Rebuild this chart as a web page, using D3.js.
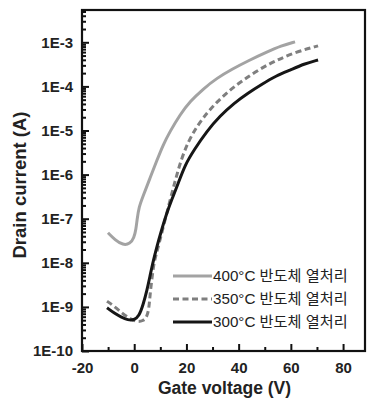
<!DOCTYPE html>
<html>
<head>
<meta charset="utf-8">
<script src="https://cdn.jsdelivr.net/npm/d3@7"></script>
<style>
  body { margin: 0; background: #fff; }
  text { font-family: "Liberation Sans", Arial, sans-serif; font-weight: bold; fill: #222; }
  .lg { font-family: "Liberation Sans", "Noto Sans CJK KR", sans-serif; font-weight: normal; }
</style>
</head>
<body>
<svg id="chart" width="368" height="399"></svg>
<script>
// 게이트 전압 (V) 과 log10(드레인 전류) 값, 그림에서 읽음
const v400 = [-10.04, -7.36, -4.29, -1.61, -0.08, 0.69, 1.07, 1.84, 3.37, 6.05, 8.74, 11.03, 13.72, 17.55, 21.38, 26.36, 31.72, 37.47, 43.6, 50.88, 56.25, 61.61];
const logI400 = [-7.32, -7.48, -7.60, -7.57, -7.44, -7.23, -7.03, -6.73, -6.49, -6.08, -5.67, -5.33, -5.02, -4.64, -4.34, -4.06, -3.81, -3.61, -3.42, -3.22, -3.08, -2.99];

const v350 = [-10.42, -7.36, -4.29, -1.61, 1.07, 3.37, 4.90, 5.67, 6.05, 6.82, 7.59, 9.12, 10.65, 12.95, 15.63, 17.93, 20.61, 24.06, 27.89, 32.11, 36.70, 41.69, 47.43, 53.95, 61.99, 70.42];
const logI350 = [-8.87, -9.00, -9.16, -9.27, -9.34, -9.32, -9.23, -9.02, -8.73, -8.34, -7.98, -7.66, -7.30, -6.76, -6.15, -5.67, -5.26, -4.90, -4.60, -4.33, -4.08, -3.86, -3.63, -3.42, -3.22, -3.08];

const v300 = [-10.42, -7.74, -5.06, -2.38, -0.08, 1.84, 3.37, 4.90, 6.05, 7.20, 8.74, 10.27, 12.18, 14.48, 16.78, 19.46, 22.91, 27.89, 32.87, 38.24, 43.60, 48.97, 54.33, 59.69, 65.06, 70.42];
const logI300 = [-9.02, -9.14, -9.23, -9.30, -9.30, -9.21, -8.96, -8.62, -8.30, -7.98, -7.62, -7.30, -6.92, -6.55, -6.21, -5.78, -5.44, -5.01, -4.67, -4.38, -4.15, -3.95, -3.76, -3.63, -3.49, -3.40];

const legendLabels = ['400°C 반도체 열처리', '350°C 반도체 열처리', '300°C 반도체 열처리'];
const xTicks = [-20, 0, 20, 40, 60, 80];
const xMinorTicks = [-10, 10, 30, 50, 70];
const yTicks = [1e-10, 1e-9, 1e-8, 1e-7, 1e-6, 1e-5, 1e-4, 1e-3];
const yTickLabels = ['1E-10', '1E-9', '1E-8', '1E-7', '1E-6', '1E-5', '1E-4', '1E-3'];

const series = [
    { v: v400, l: logI400, color: '#a3a3a3', dash: null },
    { v: v350, l: logI350, color: '#7f7f7f', dash: '6,3.5' },
    { v: v300, l: logI300, color: '#161616', dash: null }
];

const margin = { left: 82, top: 10, right: 3, bottom: 48 };
const width = 368, height = 399;
const svg = d3.select('#chart');

const x = d3.scaleLinear().domain([-20, 88.4]).range([margin.left, width - margin.right]);
const y = d3.scaleLog().domain([1e-10, 5.4e-3]).range([height - margin.bottom, margin.top]);

// 축 (안쪽 눈금)
const xAxis = d3.axisBottom(x).tickValues(xTicks).tickSize(-7).tickPadding(11).tickFormat(d => String(d));
const xMinor = d3.axisBottom(x).tickValues(xMinorTicks).tickSize(-4).tickFormat('');

const minorY = [];
for (let e = -10; e <= -3; e++) {
    for (let k = 2; k <= 9; k++) {
        const val = k * Math.pow(10, e);
        if (val < 5.4e-3) minorY.push(val);
    }
}
const yAxis = d3.axisLeft(y).tickValues(yTicks).tickSize(-7).tickPadding(9).tickFormat((d, i) => yTickLabels[i]);
const yMinor = d3.axisLeft(y).tickValues(minorY).tickSize(-4).tickFormat('');

svg.append('g').attr('transform', `translate(0,${height - margin.bottom})`).call(xAxis);
svg.append('g').attr('transform', `translate(0,${height - margin.bottom})`).call(xMinor);
svg.append('g').attr('transform', `translate(${margin.left},0)`).call(yAxis);
svg.append('g').attr('transform', `translate(${margin.left},0)`).call(yMinor);

svg.selectAll('.domain').remove();
svg.selectAll('.tick line').attr('stroke', '#111').attr('stroke-width', 2);
svg.selectAll('.tick text').style('font-size', '15px').attr('fill', '#222');

// 테두리
svg.append('rect')
    .attr('x', margin.left).attr('y', margin.top)
    .attr('width', width - margin.right - margin.left)
    .attr('height', height - margin.bottom - margin.top)
    .attr('fill', 'none').attr('stroke', '#111').attr('stroke-width', 2.2);

// 곡선
const line = d3.line().curve(d3.curveBasis).x(d => x(d[0])).y(d => y(Math.pow(10, d[1])));
series.forEach(s => {
    svg.append('path')
        .datum(s.v.map((vv, k) => [vv, s.l[k]]))
        .attr('d', line)
        .attr('fill', 'none')
        .attr('stroke', s.color)
        .attr('stroke-width', 3)
        .attr('stroke-dasharray', s.dash);
});

// 범례
const lg = svg.append('g');
series.forEach((s, k) => {
    const yy = 276 + k * 23;
    lg.append('line')
        .attr('x1', 173).attr('x2', 212).attr('y1', yy).attr('y2', yy)
        .attr('stroke', s.color).attr('stroke-width', 3)
        .attr('stroke-dasharray', s.dash);
    lg.append('text')
        .attr('class', 'lg')
        .attr('x', 213).attr('y', yy + 5)
        .style('font-size', '15.2px')
        .text(legendLabels[k]);
});

// 축 제목
svg.append('text')
    .attr('x', 224.5).attr('y', 394)
    .attr('text-anchor', 'middle')
    .style('font-size', '17.5px')
    .text('Gate voltage (V)');

svg.append('text')
    .attr('transform', `translate(26,185) rotate(-90)`)
    .attr('text-anchor', 'middle')
    .style('font-size', '18.5px')
    .text('Drain current (A)');
</script>
</body>
</html>
